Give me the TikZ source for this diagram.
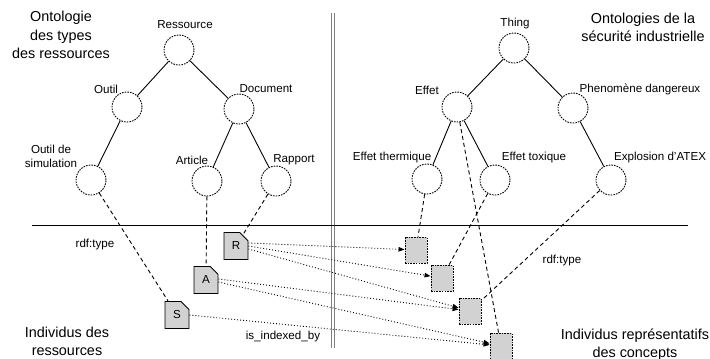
\documentclass[tikz,border=0pt]{standalone}
\usepackage{fontspec}
\setmainfont{Liberation Sans}
\usetikzlibrary{shapes.misc,arrows.meta}
\definecolor{docgray}{HTML}{D2D2D2}
\begin{document}
\begin{tikzpicture}[x=1pt,y=-1pt,
  concept/.style={circle,draw,dash pattern=on 1.6pt off 1.1pt,line width=0.9pt,
    minimum size=30pt,inner sep=0pt,fill=white},
  lbl/.style={font=\fontsize{11.6}{14.5}\selectfont,inner sep=0pt,align=center},
  heading/.style={font=\fontsize{14.4}{18.3}\selectfont,inner sep=0pt,align=center},
  isa/.style={line width=0.9pt},
  rdftype/.style={line width=0.9pt,dash pattern=on 4pt off 3pt},
  doc/.style={chamfered rectangle,chamfered rectangle corners=north east,
    chamfered rectangle xsep=5pt,chamfered rectangle ysep=5pt,
    draw,fill=docgray,line width=0.9pt,minimum width=24pt,minimum height=27pt,
    inner sep=0pt,font=\fontsize{11.6}{14}\selectfont},
  instance/.style={rectangle,draw,fill=docgray,line width=0.9pt,
    dash pattern=on 1.6pt off 1.1pt,minimum width=22pt,minimum height=26pt,inner sep=0pt},
  indexed/.style={line width=0.9pt,dash pattern=on 0.9pt off 2.1pt,
    -{Triangle[length=6pt,width=4.5pt]}},
  separator/.style={draw=gray,line width=1.4pt}
]
\useasboundingbox (0,0) rectangle (710,359);

% separators
\draw[separator] (331.5,13) -- (331.5,348);
\draw[separator] (334.6,13) -- (334.6,348);
\draw[line width=1pt] (32,225) -- (688,225);

% headings
\node[heading] (tleft) at (61,35) {Ontologie\\des types\\des ressources};
\node[heading] (tright) at (643,27.5) {Ontologies de la\\sécurité industrielle};
\node[heading] (bleft) at (67,341.5) {Individus des\\ressources};
\node[heading] (bright) at (635,344.5) {Individus représentatifs\\des concepts};

% resource type ontology
\node[concept] (res) at (179,50) {};
\node[concept] (outil) at (127,107) {};
\node[concept] (document) at (239,109) {};
\node[concept] (osim) at (91,180) {};
\node[concept] (article) at (207,181) {};
\node[concept] (rapport) at (276,181) {};

\node[lbl] (lres) at (185,25) {Ressource};
\node[lbl] (loutil) at (106,89) {Outil};
\node[lbl] (ldocument) at (266,89) {Document};
\node[lbl] (losim) at (51,156.5) {Outil de\\simulation};
\node[lbl] (larticle) at (192,160) {Article};
\node[lbl] (lrapport) at (294,160) {Rapport};

\draw[isa] (res) -- (outil);
\draw[isa] (res) -- (document);
\draw[isa] (outil) -- (osim);
\draw[isa] (document) -- (article);
\draw[isa] (document) -- (rapport);

% industrial safety ontology
\node[concept] (thing) at (514,48) {};
\node[concept] (effet) at (457,107) {};
\node[concept] (pheno) at (573,108) {};
\node[concept] (etherm) at (427,179) {};
\node[concept] (etox) at (495,180) {};
\node[concept] (atex) at (611,180) {};

\node[lbl] (lthing) at (515,23) {Thing};
\node[lbl] (leffet) at (427,90) {Effet};
\node[lbl] (lpheno) at (640,89) {Phenomène dangereux};
\node[lbl] (letherm) at (392,157) {Effet thermique};
\node[lbl] (letox) at (534,157) {Effet toxique};
\node[lbl] (latex) at (660,157) {Explosion d'ATEX};

\draw[isa] (thing) -- (effet);
\draw[isa] (thing) -- (pheno);
\draw[isa] (effet) -- (etherm);
\draw[isa] (effet) -- (etox);
\draw[isa] (pheno) -- (atex);

% resource individuals
\node[doc] (R) at (236,246) {R};
\node[doc] (A) at (206,280) {A};
\node[doc] (S) at (177,315) {S};

% concept individuals
\node[instance] (i1) at (416,250) {};
\node[instance] (i2) at (442,278) {};
\node[instance] (i3) at (470,311) {};
\node[instance] (i4) at (501,346) {};

% rdf:type links
\draw[rdftype] (osim) -- (S);
\draw[rdftype] (article) -- (A);
\draw[rdftype] (rapport) -- (R);
\draw[rdftype] (etherm) -- (i1);
\draw[rdftype] (etox) -- (i2);
\draw[rdftype] (atex) -- (i3);
\draw[rdftype] (effet) -- (i4);

\node[lbl] (rdfl) at (95,244) {rdf:type};
\node[lbl] (rdfr) at (562,260) {rdf:type};

% is_indexed_by links, fanned out along the right edge of each document
\draw[indexed] ([yshift=3pt]R.east) -- (i1);
\draw[indexed] ([yshift=0pt]R.east) -- (i2);
\draw[indexed] ([yshift=-3pt]R.east) -- (i3);
\draw[indexed] ([yshift=1pt]A.east) -- (i3);
\draw[indexed] ([yshift=-2pt]A.east) -- (i4);
\draw[indexed] (S.east) -- (i4);

\node[lbl] (idx) at (283,336) {is\_indexed\_by};
\end{tikzpicture}
\end{document}
